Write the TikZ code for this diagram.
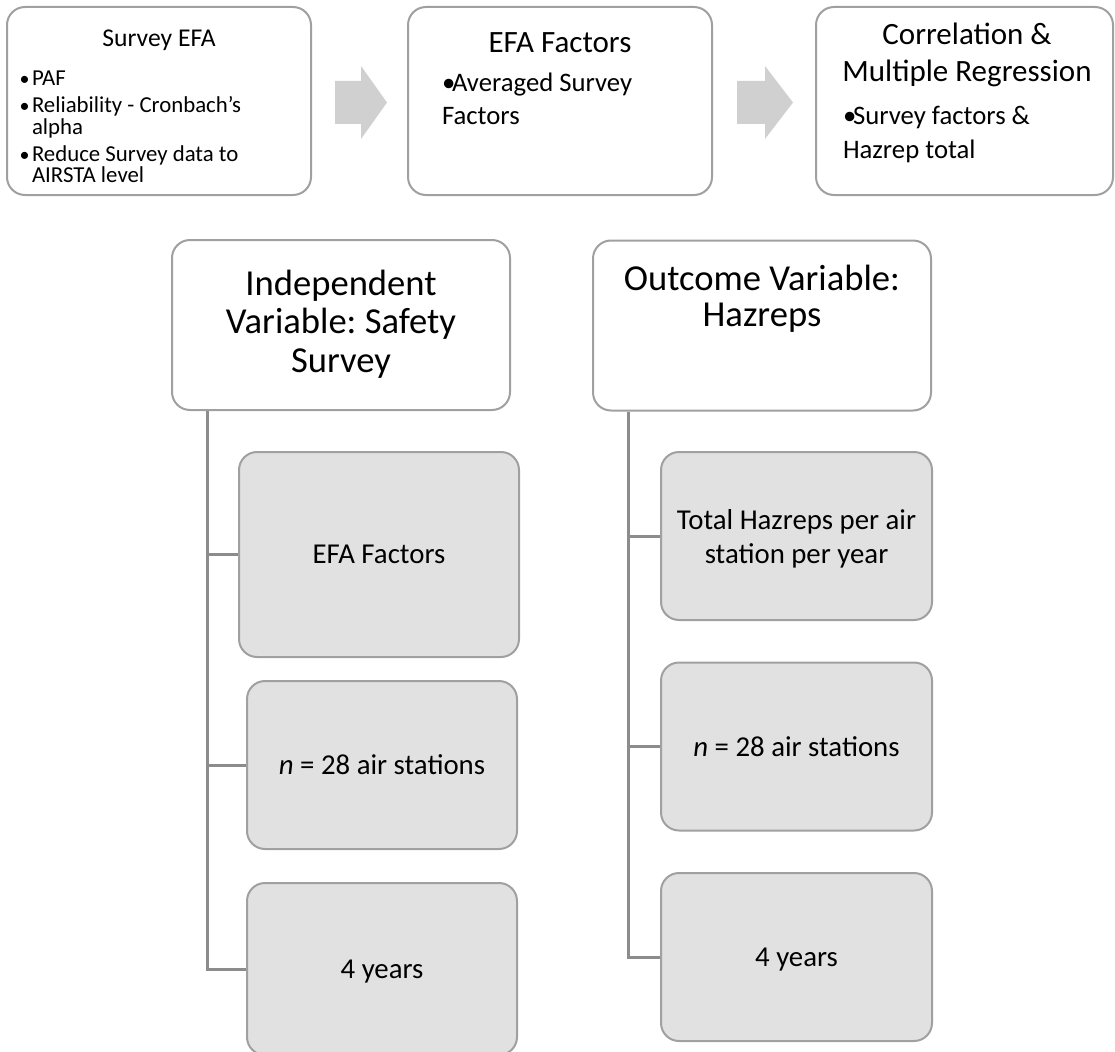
\documentclass[tikz,border=0pt]{standalone}
\usepackage{fontspec}
\setmainfont{Carlito}
\frenchspacing
\definecolor{bordergray}{HTML}{A0A0A0}
\definecolor{fillgray}{HTML}{E1E1E1}
\definecolor{linegray}{HTML}{8C8C8C}
\definecolor{arrowgray}{HTML}{D0D0D0}
\newcommand{\bulA}{\makebox[11pt][l]{\kern-1.5pt{\fontsize{20}{20}\selectfont•}}}
\newcommand{\bulB}{\makebox[10pt][l]{•}}
\tikzset{
  topbox/.style={draw=bordergray, line width=2pt, rounded corners=18pt, fill=white,
    minimum width=304pt, minimum height=188pt, inner sep=0pt},
  hdrbox/.style={draw=bordergray, line width=2pt, rounded corners=18pt, fill=white,
    minimum width=338pt, minimum height=170pt, inner sep=0pt},
  childbox/.style={draw=bordergray, fill=fillgray, line width=2pt, rounded corners=18pt,
    inner sep=0pt, minimum width=270pt, minimum height=168pt, align=center,
    text depth=0pt, font=\fontsize{28.8}{34}\selectfont},
  txt/.style={inner sep=0pt, outer sep=0pt},
  conn/.style={draw=linegray, line width=3pt},
  flowarrow/.style={fill=arrowgray},
}
\begin{document}
\begin{tikzpicture}[x=1pt,y=-1pt]
\useasboundingbox (0,0) rectangle (1115,1051);
\clip (0,0) rectangle (1115,1051);

% top process boxes
\node[topbox] (b1) at (159,101) {};
\node[topbox] (b2) at (560,101) {};
\node[topbox, minimum width=297pt] (b3) at (964.5,101) {};

\fill[flowarrow] (335,81) -- (361,81) -- (361,66) -- (387,102.5) -- (361,139) -- (361,124) -- (335,124) -- cycle;
\fill[flowarrow] (737,81) -- (765,81) -- (765,66) -- (793,102.5) -- (765,139) -- (765,124) -- (737,124) -- cycle;

% (multi-line nodes: base anchor = baseline of the last line)
\node[txt, anchor=base, font=\fontsize{25.6}{30}\selectfont] (t1) at (159,47) {Survey EFA};
\node[txt, anchor=base west, align=left, font=\fontsize{22.8}{21.5}\selectfont] (t1b) at (21,182.5)
  {\bulA PAF\\[5.5pt]\bulA Reliability - Cronbach’s\\\hspace*{11pt}alpha\\[5.5pt]\bulA Reduce Survey data to\\\hspace*{11pt}AIRSTA level};

\node[txt, anchor=base, font=\fontsize{31}{37}\selectfont] (t2) at (560,53) {EFA Factors};
\node[txt, anchor=base west, align=left, font=\fontsize{26.7}{33}\selectfont] (t2b) at (442,125)
  {\bulB Averaged Survey\\Factors};

\node[txt, anchor=base, align=center, font=\fontsize{31}{37}\selectfont] (t3) at (967,82)
  {Correlation \&\\Multiple Regression};
\node[txt, anchor=base west, align=left, font=\fontsize{26.7}{34}\selectfont] (t3b) at (843,159)
  {\bulB Survey factors \&\\Hazrep total};

% hierarchy headers
\node[hdrbox] (hL) at (341,325) {};
\node[hdrbox] (hR) at (762,325.5) {};
\node[txt, anchor=base, align=center, font=\fontsize{36.6}{38.5}\selectfont] (hLt) at (341,372)
  {Independent\\Variable: Safety\\Survey};
\node[txt, anchor=base, align=center, font=\fontsize{36.6}{36}\selectfont] (hRt) at (762,326.7)
  {Outcome Variable:\\Hazreps};

% children
\node[childbox, minimum width=280pt, minimum height=205pt] (cL1) at (379,554.5) {EFA Factors};
\node[childbox] (cL2) at (382,765) {\textit{n} = 28 air stations};
\node[childbox, minimum height=172pt] (cL3) at (382,969) {4 years};

\node[childbox, minimum width=271pt] (cR1) at (796.5,536) {Total Hazreps per air\\station per year};
\node[childbox, minimum width=271pt] (cR2) at (796.5,746.5) {\textit{n} = 28 air stations};
\node[childbox, minimum width=271pt] (cR3) at (796.5,957) {4 years};

% connectors
\coordinate (spL) at (207,0);
\coordinate (spR) at (628,0);
\draw[conn] (spL |- hL.south) |- (cL3.west);
\draw[conn] (spL |- cL1.west) -- (cL1.west);
\draw[conn] (spL |- cL2.west) -- (cL2.west);
\draw[conn] (spR |- hR.south) |- (cR3.west);
\draw[conn] (spR |- cR1.west) -- (cR1.west);
\draw[conn] (spR |- cR2.west) -- (cR2.west);
\end{tikzpicture}
\end{document}
